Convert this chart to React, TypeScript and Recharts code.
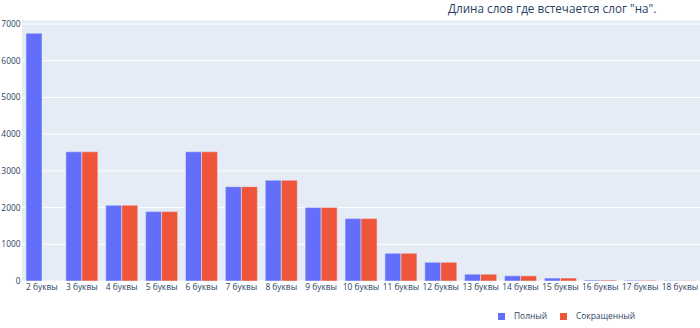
import React from 'react';
import { BarChart, Bar, XAxis, YAxis, CartesianGrid } from 'recharts';

const categories = ['2 буквы','3 буквы','4 буквы','5 буквы','6 буквы','7 буквы','8 буквы','9 буквы','10 буквы','11 буквы','12 буквы','13 буквы','14 буквы','15 буквы','16 буквы','17 буквы','18 буквы'];
const fullValues = [6750, 3520, 2063, 1890, 3520, 2570, 2745, 2000, 1700, 755, 510, 185, 140, 80, 25, 18, 8];
const shortValues = [0, 3520, 2063, 1890, 3520, 2570, 2745, 2000, 1700, 755, 510, 185, 140, 80, 25, 18, 8];
const yTicks = [0, 1000, 2000, 3000, 4000, 5000, 6000, 7000];
const seriesNames = ['Полный', 'Сокращенный'];
const title = 'Длина слов где встечается слог "на".';

const data = categories.map((c, i) => ({ name: c, full: fullValues[i], short: shortValues[i] }));

const FONT = '"Open Sans", "DejaVu Sans", sans-serif';
const BLUE = '#636efa';
const RED = '#EF553B';
const TEXT = '#2a3f5f';
const TICK_FS = 8.4;

export default function App() {
  return (
    <div style={{ position: 'absolute', left: 0, top: 0, width: 700, height: 328, background: '#fff', overflow: 'hidden' }}>
      <div style={{ position: 'absolute', left: 448, top: 0, fontFamily: FONT, fontSize: 11.7, lineHeight: '16px', color: TEXT, whiteSpace: 'nowrap' }}>{title}</div>
      <BarChart
        width={700}
        height={328}
        data={data}
        margin={{ top: 20, right: 0, left: 0, bottom: 0 }}
        barCategoryGap="10%"
        barGap={0}
      >
        <CartesianGrid vertical={false} stroke="#ffffff" fill="#E5ECF6" />
        <XAxis
          dataKey="name"
          axisLine={false}
          tickLine={false}
          tickSize={0}
          interval={0}
          tick={{ fontSize: TICK_FS, fill: TEXT, fontFamily: FONT }}
          tickMargin={3}
          height={47}
        />
        <YAxis
          width={22}
          domain={[0, 7110]}
          ticks={yTicks}
          axisLine={false}
          tickLine={false}
          tickSize={0}
          tickMargin={1.5}
          tick={{ fontSize: TICK_FS, fill: TEXT, fontFamily: FONT }}
          allowDataOverflow
        />
        <Bar dataKey="full" name={seriesNames[0]} fill={BLUE} stroke="#E5ECF6" strokeWidth={0.5} isAnimationActive={false} />
        <Bar dataKey="short" name={seriesNames[1]} fill={RED} stroke="#E5ECF6" strokeWidth={0.5} isAnimationActive={false} />
      </BarChart>
      <div style={{ position: 'absolute', left: 498, top: 310, display: 'flex', alignItems: 'center', fontFamily: FONT, fontSize: TICK_FS, lineHeight: '12px', color: TEXT, whiteSpace: 'nowrap' }}>
        <span style={{ display: 'inline-block', width: 7, height: 7, background: BLUE, marginRight: 9 }} />
        <span style={{ marginRight: 13 }}>{seriesNames[0]}</span>
        <span style={{ display: 'inline-block', width: 7, height: 7, background: RED, marginRight: 9 }} />
        <span>{seriesNames[1]}</span>
      </div>
    </div>
  );
}
